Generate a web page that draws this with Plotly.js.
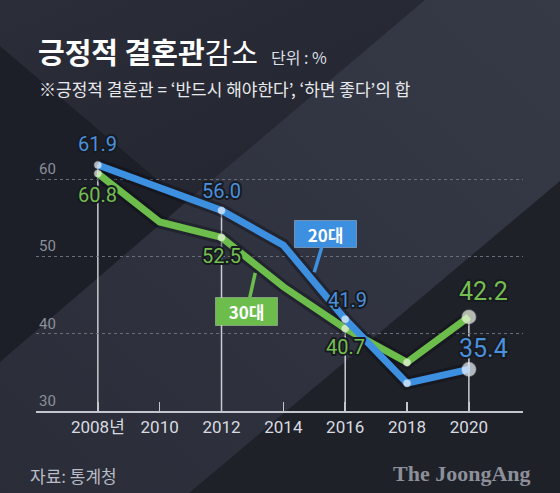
<!DOCTYPE html>
<html>
<head>
<meta charset="utf-8">
<script src="https://cdn.plot.ly/plotly-3.0.1.min.js"></script>
<style>
  html, body { margin: 0; padding: 0; background: #2c2f3b; }
  #wrap { position: relative; width: 560px; height: 493px; overflow: hidden; }
  #bg { position: absolute; left: 0; top: 0; }
  #chart { position: absolute; left: 0; top: 0; width: 560px; height: 493px; }
</style>
</head>
<body>
<div id="wrap">
  <svg id="bg" width="560" height="493" viewBox="0 0 560 493">
    <defs>
      <linearGradient id="gMid" x1="1" y1="0" x2="0" y2="1">
        <stop offset="0" stop-color="#363a47"/>
        <stop offset="1" stop-color="#2a2d38"/>
      </linearGradient>
      <linearGradient id="gTop" x1="0" y1="0" x2="1" y2="1">
        <stop offset="0" stop-color="#2b2e39"/>
        <stop offset="1" stop-color="#22242e"/>
      </linearGradient>
    </defs>
    <rect x="0" y="0" width="560" height="493" fill="url(#gMid)"/>
    <polygon points="0,0 425,0 185,203 0,46" fill="url(#gTop)"/>
    <polygon points="0,46 185,203 0,362" fill="#1d1f28"/>
    <polygon points="189,493 560,181 560,493" fill="#1f2129"/>
  </svg>
  <div id="chart"></div>
</div>
<script>
// ---- data ----
const years = [2008, 2010, 2012, 2014, 2016, 2018, 2020];
const tickLabels = ['2008년', '2010', '2012', '2014', '2016', '2018', '2020'];
const series20 = [61.9, 59.0, 56.0, 51.5, 41.9, 33.6, 35.4];
const series30 = [60.8, 54.5, 52.5, 46.1, 40.7, 36.3, 42.2];
const labeledYears = [2008, 2012, 2016, 2020];
const yTicks = [30, 40, 50, 60];
const name20 = '20대';
const name30 = '30대';

// ---- layout geometry (pixels) ----
const W = 560, H = 493;
const M = { l: 35.7, r: 37, t: 140.6, b: 81.5 };
const PW = W - M.l - M.r, PH = H - M.t - M.b;
const px = x => (x - M.l) / PW;         // pixel -> paper x
const py = y => (H - M.b - y) / PH;     // pixel -> paper y

const BLUE = '#3d8fe0', GREEN = '#6cbd4b';
const BLUE_T = '#4a90da', GREEN_T = '#74be50';
const lastYear = years[years.length - 1];

function markerSizes() {
  return years.map(y => y === lastYear ? 14 : (labeledYears.includes(y) || y === 2018) ? 7 : 0);
}

const traces = [];
// shadows
[series30, series20].forEach(s => traces.push({
  x: years, y: s, mode: 'lines', hoverinfo: 'skip',
  line: { color: 'rgba(8,10,16,0.35)', width: 13 }, showlegend: false
}));
traces.push({
  x: years, y: series30, name: name30, mode: 'lines+markers',
  line: { color: GREEN, width: 7 },
  marker: { size: markerSizes(), color: '#f3fbe6', line: { width: 1.5, color: 'rgba(255,255,255,0.35)' } },
  showlegend: false
});
traces.push({
  x: years, y: series20, name: name20, mode: 'lines+markers',
  line: { color: BLUE, width: 7 },
  marker: { size: markerSizes(), color: '#f0f7ff', line: { width: 1.5, color: 'rgba(255,255,255,0.35)' } },
  showlegend: false
});

// drop lines at labeled years
const shapes = labeledYears.map(yr => {
  const i = years.indexOf(yr);
  return {
    type: 'line', xref: 'x', yref: 'y', layer: 'below',
    x0: yr, x1: yr, y0: yTicks[0], y1: Math.max(series20[i], series30[i]),
    line: { color: '#c9ccd2', width: 1.5 }
  };
});

// value labels
const annotations = [];
labeledYears.forEach(yr => {
  const i = years.indexOf(yr);
  const last = yr === lastYear;
  const fs = last ? 25 : 20;
  annotations.push({
    x: yr, y: series20[i], xref: 'x', yref: 'y', showarrow: false,
    text: series20[i].toFixed(1), xshift: last ? 15 : (yr === 2016 ? 2 : 0),
    yshift: last ? 21 : (yr === 2008 ? 21 : 19),
    font: { family: 'Roboto, Arial, sans-serif', size: fs, color: BLUE_T }
  });
  annotations.push({
    x: yr, y: series30[i], xref: 'x', yref: 'y', showarrow: false,
    text: series30[i].toFixed(1), xshift: last ? 15 : 0,
    yshift: last ? 25 : (yr === 2008 ? -22 : -19),
    font: { family: 'Roboto, Arial, sans-serif', size: fs, color: GREEN_T }
  });
});
const nValueLabels = annotations.length;

// callouts
annotations.push({
  x: 2015.0, y: 48.0, xref: 'x', yref: 'y', axref: 'pixel', ayref: 'pixel',
  ax: 11.5, ay: -38.5, showarrow: true, arrowhead: 0, arrowwidth: 3.5, arrowcolor: BLUE, standoff: 0,
  text: '<b>' + name20 + '</b>', bgcolor: BLUE, bordercolor: 'rgba(255,255,255,0.3)', borderwidth: 1,
  width: 59, height: 24, borderpad: 1,
  font: { family: "'Noto Sans CJK KR', sans-serif", size: 17, color: '#ffffff' }
});
annotations.push({
  x: 2013.09, y: 47.9, xref: 'x', yref: 'y', axref: 'pixel', ayref: 'pixel',
  ax: -8.5, ay: 38.5, showarrow: true, arrowhead: 0, arrowwidth: 3.5, arrowcolor: GREEN, standoff: 0,
  text: '<b>' + name30 + '</b>', bgcolor: GREEN, bordercolor: 'rgba(255,255,255,0.3)', borderwidth: 1,
  width: 59, height: 25, borderpad: 1,
  font: { family: "'Noto Sans CJK KR', sans-serif", size: 17, color: '#ffffff' }
});

// texts
annotations.push({
  xref: 'paper', yref: 'paper', x: px(36), y: py(50), xanchor: 'left', yanchor: 'middle', showarrow: false,
  text: '<b>긍정적 결혼관</b>감소  <span style="font-size:16px;color:#dcdfe4">단위 : %</span>',
  font: { family: "'Noto Sans CJK KR', sans-serif", size: 29, color: '#ffffff' }
});
annotations.push({
  xref: 'paper', yref: 'paper', x: px(37), y: py(88), xanchor: 'left', yanchor: 'middle', showarrow: false,
  text: '※긍정적 결혼관 = ‘반드시 해야한다’, ‘하면 좋다’의 합',
  font: { family: "'Noto Sans CJK KR', sans-serif", size: 17, color: '#e8e9ec' }
});
annotations.push({
  xref: 'paper', yref: 'paper', x: px(28), y: py(476), xanchor: 'left', yanchor: 'middle', showarrow: false,
  text: '자료: 통계청',
  font: { family: "'Noto Sans CJK KR', sans-serif", size: 17, color: '#b9bcc5' }
});
annotations.push({
  xref: 'paper', yref: 'paper', x: px(533), y: py(474), xanchor: 'right', yanchor: 'middle', showarrow: false,
  text: '<b>The JoongAng</b>',
  font: { family: "'Liberation Serif', 'DejaVu Serif', serif", size: 22, color: '#8d9099' }
});

const layout = {
  width: W, height: H,
  margin: { l: M.l, r: M.r, t: M.t, b: M.b, pad: 0 },
  paper_bgcolor: 'rgba(0,0,0,0)', plot_bgcolor: 'rgba(0,0,0,0)',
  showlegend: false,
  xaxis: {
    range: [2006, 2021.75], tickvals: years, ticktext: tickLabels,
    showgrid: false, zeroline: false, showline: true, linecolor: '#c3c6cc', linewidth: 2,
    ticks: 'inside', ticklen: 9, tickwidth: 1.5, tickcolor: '#c3c6cc',
    tickfont: { family: "Roboto, 'Noto Sans CJK KR', sans-serif", size: 17, color: '#d8dbe0' },
    fixedrange: true
  },
  yaxis: {
    range: [30, 65], tickvals: yTicks, ticktext: yTicks.map(String),
    showgrid: true, gridcolor: '#6a6e78', griddash: 'dot', gridwidth: 1,
    zeroline: false, showline: false, ticks: '',
    ticklabelposition: 'inside top',
    tickfont: { family: 'Roboto, Arial, sans-serif', size: 15, color: '#8b8f99' },
    fixedrange: true
  },
  shapes: shapes,
  annotations: annotations
};

Plotly.newPlot('chart', traces, layout, { staticPlot: true, displayModeBar: false }).then(() => {
  document.querySelectorAll('#chart g.annotation').forEach(g => {
    const idx = parseInt(g.getAttribute('data-index'), 10);
    if (idx < nValueLabels) {
      g.querySelectorAll('text').forEach(t => {
        t.style.paintOrder = 'stroke';
        t.style.stroke = '#181a21';
        t.style.strokeWidth = '4px';
        t.style.strokeLinejoin = 'round';
      });
    }
  });
});
</script>
</body>
</html>
